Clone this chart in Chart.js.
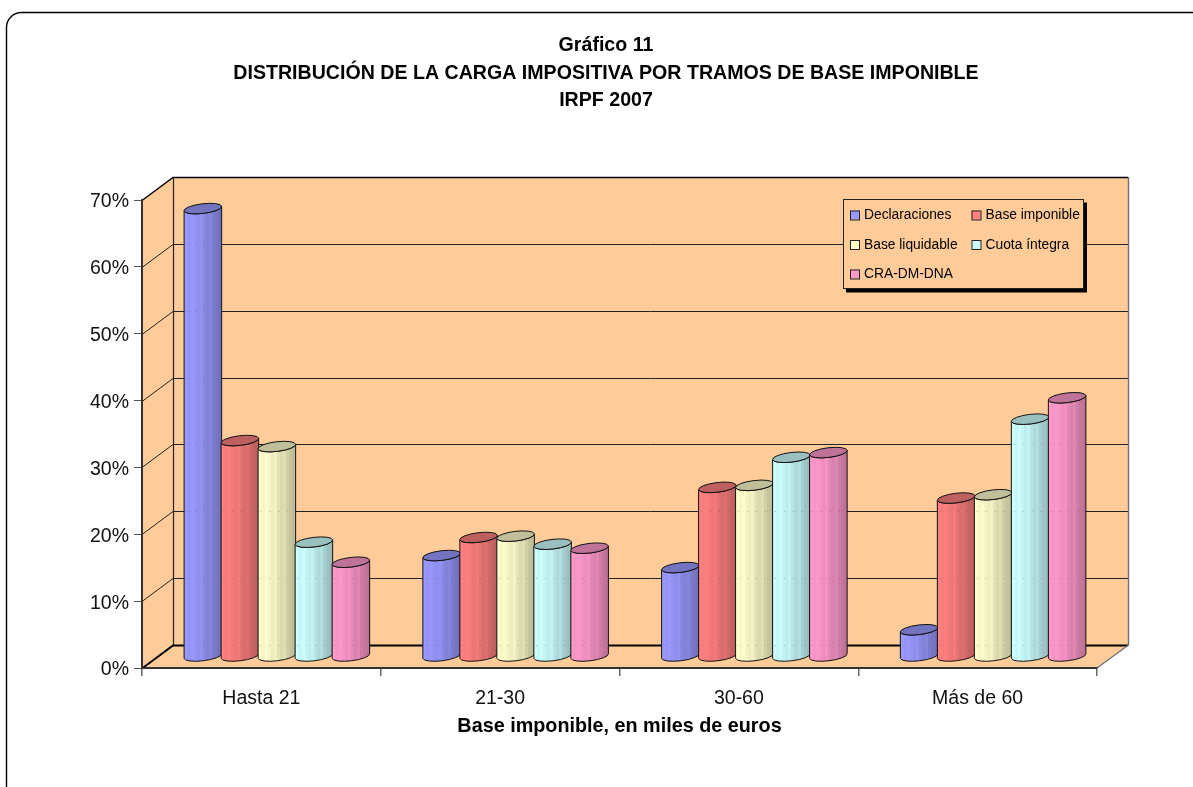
<!DOCTYPE html>
<html lang="es">
<head>
<meta charset="utf-8">
<title>Gráfico 11</title>
<script src="https://cdn.jsdelivr.net/npm/chart.js@4/dist/chart.umd.min.js"></script>
<style>
  html, body { margin: 0; padding: 0; background: #fff; width: 1193px; height: 787px; overflow: hidden; }
  canvas { display: block; }
</style>
</head>
<body>
<canvas id="chart" width="1213" height="800"></canvas>
<script>
const titleLines = ["Gráfico 11", "DISTRIBUCIÓN DE LA CARGA IMPOSITIVA POR TRAMOS DE BASE IMPONIBLE", "IRPF 2007"];
const axisTitle = "Base imponible, en miles de euros";
const categories = ["Hasta 21", "21-30", "30-60", "Más de 60"];
const seriesNames = ["Declaraciones", "Base imponible", "Base liquidable", "Cuota íntegra", "CRA-DM-DNA"];

const declaraciones = [67.0, 15.1, 13.3, 4.0];
const baseImponible = [32.3, 17.8, 25.3, 23.7];
const baseLiquidable = [31.4, 18.0, 25.6, 24.2];
const cuotaIntegra = [17.1, 16.8, 29.8, 35.5];
const craDmDna = [14.1, 16.2, 30.5, 38.7];
const seriesValues = [declaraciones, baseImponible, baseLiquidable, cuotaIntegra, craDmDna];

const seriesColors = [[153, 153, 255], [255, 128, 128], [255, 255, 204], [204, 255, 255], [255, 153, 204]];
const bandShades = [1, 0.97, 0.99, 0.96, 0.93, 0.95, 0.89, 0.85, 0.87, 0.81, 0.77, 0.74];

const wallColor = "#FFCC99";
const fontFamily = "'Liberation Sans', Arial, sans-serif";
const depthX = 31;
const depthY = -23;
const capB = 4.8;
const capTilt = -0.12;

function shade(rgb, f) {
  return "rgb(" + rgb.map((c) => Math.round(c * f)).join(",") + ")";
}

function cylinderPath(ctx, x, top, base, w) {
  // tilted ellipse, the same at both ends of the cylinder
  const a = w / 2 + 0.4;
  const dx = a * Math.cos(capTilt);
  const dy = a * Math.sin(capTilt);
  ctx.beginPath();
  ctx.moveTo(x - dx, top - dy);
  ctx.lineTo(x - dx, base - dy);
  ctx.ellipse(x, base, a, capB, capTilt, Math.PI, 0, true);
  ctx.lineTo(x + dx, top + dy);
  ctx.ellipse(x, top, a, capB, capTilt, 0, Math.PI, false);
  ctx.closePath();
}

function drawCylinder(ctx, bar, rgb) {
  const x = bar.x + depthX / 2;
  const top = bar.y + depthY / 2;
  const base = bar.base + depthY / 2;
  const w = bar.width;

  const grad = ctx.createLinearGradient(x - w / 2, 0, x + w / 2, 0);
  bandShades.forEach((f, i) => {
    grad.addColorStop(i / bandShades.length, shade(rgb, f));
    grad.addColorStop((i + 1) / bandShades.length, shade(rgb, f));
  });
  cylinderPath(ctx, x, top, base, w);
  ctx.fillStyle = grad;
  ctx.fill();
  ctx.strokeStyle = "#111";
  ctx.lineWidth = 1;
  ctx.stroke();

  ctx.beginPath();
  ctx.ellipse(x, top, w / 2 + 0.4, capB, capTilt, 0, Math.PI * 2);
  ctx.fillStyle = shade(rgb, 0.75);
  ctx.fill();
  ctx.stroke();
}

const chart3d = {
  id: "chart3d",
  afterLayout(chart) {
    // the source chart centres its title on the whole frame, not on the plot
    chart.titleBlock.left = 115;
  },
  beforeDraw(chart) {
    const ctx = chart.ctx;
    const { left, right, top, bottom } = chart.chartArea;
    const y = chart.scales.y;

    ctx.save();
    ctx.fillStyle = "#fff";
    ctx.fillRect(0, 0, chart.width, chart.height);

    // outer frame, runs past the right and bottom of the page
    ctx.beginPath();
    ctx.roundRect(6.5, 12.5, 1300, 900, 15);
    ctx.strokeStyle = "#000";
    ctx.lineWidth = 1.4;
    ctx.stroke();

    // side wall, floor, back wall
    ctx.fillStyle = wallColor;
    ctx.beginPath();
    ctx.moveTo(left, top);
    ctx.lineTo(left + depthX, top + depthY);
    ctx.lineTo(right + depthX, top + depthY);
    ctx.lineTo(right + depthX, bottom + depthY);
    ctx.lineTo(right, bottom);
    ctx.lineTo(left, bottom);
    ctx.closePath();
    ctx.fill();

    // gridlines on side wall and back wall
    y.ticks.forEach((t) => {
      const py = Math.round(y.getPixelForValue(t.value)) + 0.5;
      const heavy = t.value === 0 || t.value === y.max;
      ctx.strokeStyle = heavy ? "#000" : "#222";
      ctx.lineWidth = t.value === 0 ? 2 : heavy ? 1.4 : 1;
      ctx.beginPath();
      ctx.moveTo(left, py);
      ctx.lineTo(left + depthX, py + depthY);
      ctx.lineTo(right + depthX, py + depthY);
      ctx.stroke();
    });

    // back wall edges
    ctx.strokeStyle = "#222";
    ctx.lineWidth = 1.2;
    ctx.beginPath();
    ctx.moveTo(left + depthX + 0.5, bottom + depthY);
    ctx.lineTo(left + depthX + 0.5, top + depthY + 0.5);
    ctx.stroke();
    ctx.strokeStyle = "#707070";
    ctx.lineWidth = 1.4;
    ctx.beginPath();
    ctx.moveTo(right + depthX + 0.5, top + depthY);
    ctx.lineTo(right + depthX + 0.5, bottom + depthY);
    ctx.lineTo(right, bottom);
    ctx.stroke();
    ctx.restore();
  },
  beforeDatasetDraw() {
    return false;
  },
  afterDatasetsDraw(chart) {
    const ctx = chart.ctx;
    const y = chart.scales.y;
    ctx.save();
    seriesValues.forEach((vals, i) => {
      chart.getDatasetMeta(i).data.forEach((bar) => {
        drawCylinder(ctx, bar, seriesColors[i]);
      });
    });

    // gridlines shine faintly through the cylinders
    ctx.strokeStyle = "rgba(40,40,40,0.28)";
    ctx.lineWidth = 1;
    ctx.setLineDash([1, 8]);
    y.ticks.forEach((t) => {
      const py = Math.round(y.getPixelForValue(t.value)) + depthY + 0.5;
      seriesValues.forEach((vals, i) => {
        chart.getDatasetMeta(i).data.forEach((bar) => {
          if (bar.y + depthY / 2 + 5 < py) {
            ctx.beginPath();
            ctx.moveTo(bar.x + depthX / 2 - bar.width / 2 + 2, py);
            ctx.lineTo(bar.x + depthX / 2 + bar.width / 2, py);
            ctx.stroke();
          }
        });
      });
    });
    ctx.setLineDash([]);

    // legend box, two columns
    const lx = 843, ly = 199.5, lw = 240, lh = 89;
    ctx.fillStyle = "#000";
    ctx.fillRect(lx + 3, ly + 3, lw + 1, lh + 1);
    ctx.fillStyle = wallColor;
    ctx.fillRect(lx, ly, lw, lh);
    ctx.strokeStyle = "#222";
    ctx.lineWidth = 1;
    ctx.strokeRect(lx + 0.5, ly, lw, lh);
    ctx.font = "13.8px " + fontFamily;
    ctx.textBaseline = "middle";
    seriesNames.forEach((name, i) => {
      const col = i % 2;
      const row = Math.floor(i / 2);
      const mx = lx + 7 + col * 121.5;
      const my = ly + 15.5 + row * 29.5;
      ctx.fillStyle = shade(seriesColors[i], 1);
      ctx.fillRect(mx, my - 4.5, 9, 9);
      ctx.strokeStyle = "#222";
      ctx.strokeRect(mx + 0.5, my - 4, 9, 9);
      ctx.fillStyle = "#000";
      ctx.fillText(name, mx + 14, my + 0.5);
    });
    ctx.restore();
  },
};

new Chart(document.getElementById("chart").getContext("2d"), {
  type: "bar",
  data: {
    labels: categories,
    datasets: seriesNames.map((name, i) => ({
      label: name,
      data: seriesValues[i],
      backgroundColor: shade(seriesColors[i], 1),
      barPercentage: 1,
      categoryPercentage: 0.775,
    })),
  },
  options: {
    responsive: false,
    animation: false,
    layout: { padding: { left: 0, right: 116, top: 0, bottom: 0 } },
    plugins: {
      legend: { display: false },
      tooltip: { enabled: false },
      title: {
        display: true,
        text: titleLines,
        color: "#000",
        font: { family: fontFamily, size: 19.6, weight: "bold", lineHeight: 1.4 },
        padding: { top: 32, bottom: 85.7 },
      },
    },
    scales: {
      x: {
        afterFit(scale) {
          scale.height = 132;
        },
        grid: { display: true, drawOnChartArea: false, drawTicks: true, tickLength: 8, lineWidth: 1.5, color: "#666", offset: true },
        border: { display: true, color: "#333", width: 2 },
        ticks: { color: "#111", padding: 11, font: { family: fontFamily, size: 19.5 } },
        title: {
          display: true,
          text: axisTitle,
          color: "#000",
          font: { family: fontFamily, size: 19.8, weight: "bold" },
          padding: { top: 0, bottom: 62 },
        },
      },
      y: {
        min: 0,
        max: 70,
        afterFit(scale) {
          scale.width = 142;
        },
        grid: { display: true, drawOnChartArea: false, drawTicks: true, tickLength: 8, color: "#555" },
        border: { display: true, color: "#333", width: 2 },
        ticks: {
          stepSize: 10,
          color: "#111",
          padding: 5,
          labelOffset: 2,
          font: { family: fontFamily, size: 19.5 },
          callback: (v) => v + "%",
        },
      },
    },
  },
  plugins: [chart3d],
});
</script>
</body>
</html>
